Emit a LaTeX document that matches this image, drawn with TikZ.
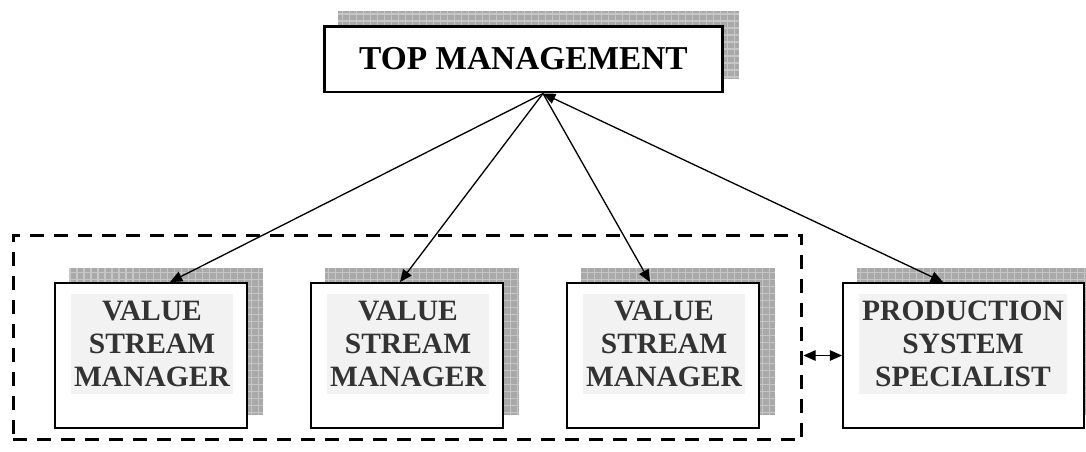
\documentclass[tikz,border=0pt]{standalone}
\usepackage{fontspec}
\setmainfont{Liberation Serif}
\usetikzlibrary{
    positioning,
    arrows.meta,
    backgrounds
}
\definecolor{shadowgray}{HTML}{A9A9A9}
\definecolor{gridgray}{HTML}{C6C6C6}
\definecolor{textgray}{HTML}{333333}
\definecolor{labelbg}{HTML}{F2F2F2}
\tikzset{
    > = {Triangle[length=7pt, width=6pt]},
    topbox/.style = {draw, line width=1.7pt, fill=white, minimum width=7.98cm,
        minimum height=1.32cm, font=\fontsize{19}{23}\selectfont\bfseries},
    unitbox/.style = {draw, line width=1.1pt, fill=white, minimum height=2.9cm},
    unitlabel/.style = {fill=labelbg, text=textgray, align=center, inner sep=0pt,
        minimum height=2cm, font=\fontsize{16.8}{18.8}\selectfont\bfseries},
    groupbox/.style = {draw, line width=1.7pt, dash pattern=on 0.28cm off 0.2cm,
        minimum width=15.78cm, minimum height=4.1cm},
    link/.style = {line width=0.75pt},
}
\newcommand{\dropshadow}[1]{%
  \fill[shadowgray] ([shift={(15,-14)}]#1.south west) rectangle ([shift={(15,-14)}]#1.north east);
  \begin{scope}
    \clip ([shift={(15,-14)}]#1.south west) rectangle ([shift={(15,-14)}]#1.north east);
    \draw[gridgray, line width=0.6pt, step=0.14cm] ([shift={(15,-14)}]#1.south west) grid ([shift={(15,-14)}]#1.north east);
  \end{scope}}

\begin{document}
\begin{tikzpicture}[x=0.02cm, y=-0.02cm]
\useasboundingbox (0,0) rectangle (1086,451);

% boxes
\node[topbox] (top) at (523.5,59) {TOP MANAGEMENT};

\node[groupbox] (group) at (407.5,337.5) {};

\node[unitbox, minimum width=3.84cm] (vsm1) at (151,355.5) {};
\node[unitlabel, minimum width=3.24cm] (vsm1label) at (152,344) {VALUE\\STREAM\\MANAGER};
\node[unitbox, minimum width=3.84cm] (vsm2) at (407,355.5) {};
\node[unitlabel, minimum width=3.24cm] (vsm2label) at (408,344) {VALUE\\STREAM\\MANAGER};
\node[unitbox, minimum width=3.84cm] (vsm3) at (663,355.5) {};
\node[unitlabel, minimum width=3.24cm] (vsm3label) at (664,344) {VALUE\\STREAM\\MANAGER};

\node[unitbox, minimum width=4.82cm] (pss) at (963.5,355.5) {};
\node[unitlabel, minimum width=4.16cm] (psslabel) at (963,344) {PRODUCTION\\SYSTEM\\SPECIALIST};

% shadows
\begin{scope}[on background layer]
\dropshadow{top}
\dropshadow{vsm1}
\dropshadow{vsm2}
\dropshadow{vsm3}
\dropshadow{pss}
\end{scope}

% links
\coordinate (hub) at ([xshift=0.39cm]top.south);
\coordinate (in1) at ([xshift=0.38cm]vsm1.north);
\coordinate (in2) at ([xshift=-0.14cm]vsm2.north);
\coordinate (in3) at ([xshift=-0.26cm]vsm3.north);
\coordinate (in4) at ([xshift=-0.41cm]pss.north);

\draw[link, ->] (hub) -- (in1);
\draw[link, ->] (hub) -- (in2);
\draw[link, ->] (hub) -- (in3);
\draw[link, <->] (hub) -- (in4);
\draw[link, <->] (group.east |- pss.west) -- (pss.west);
\end{tikzpicture}
\end{document}
